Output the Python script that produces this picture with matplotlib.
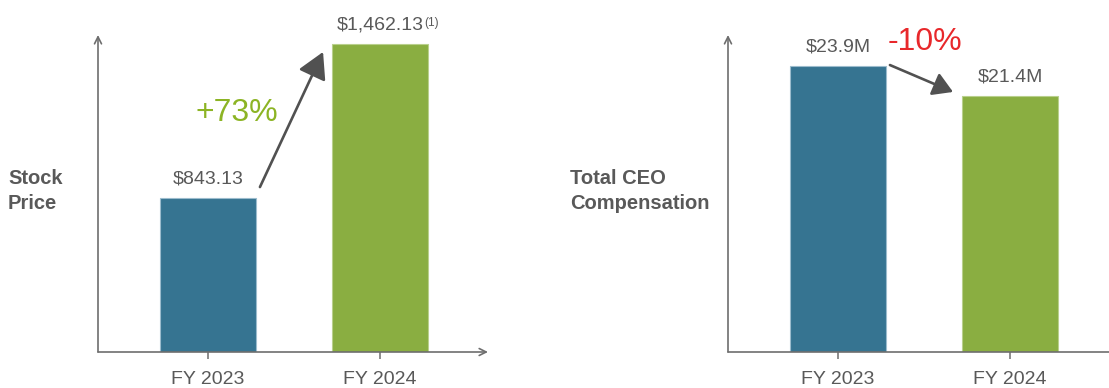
import matplotlib
matplotlib.use("Agg")
import matplotlib.pyplot as plt

plt.rcParams['font.family'] = ['Liberation Sans', 'DejaVu Sans']

# data
years = ['FY 2023', 'FY 2024']
stock_price = [843.13, 1462.13]
stock_labels = ['$843.13', '$1,462.13']
ceo_comp = [23.9, 21.4]          # $M
ceo_labels = ['$23.9M', '$21.4M']
stock_change = '+73%'
comp_change = '-10%'

blue = '#367491'
green = '#8aae41'
axis_gray = '#6e6e6e'
text_gray = '#595959'
arrow_gray = '#515151'

fig = plt.figure(figsize=(11.09, 3.88), dpi=100)
W, H = 1109, 388


def panel(left_px, ylim, x_arrow=True):
    ax = fig.add_axes([left_px / W, 36 / H, 390 / W, 317 / H])
    ax.set_xlim(-0.6395, 1.628)
    ax.set_ylim(*ylim)
    for s in ax.spines.values():
        s.set_visible(False)
    ax.set_yticks([])
    ax.set_xticks([0, 1])
    ax.set_xticklabels(years, fontsize=14, color=text_gray)
    ax.tick_params(axis='x', direction='inout', length=9.5, width=1.1,
                   color=axis_gray, pad=9)
    # axis lines with open arrow heads
    head = '->,head_length=0.5,head_width=0.25'
    ax.annotate('', xy=(0, 1), xytext=(0, 0), xycoords='axes fraction',
                arrowprops=dict(arrowstyle=head, color=axis_gray, lw=1.2,
                                shrinkA=0, shrinkB=0),
                annotation_clip=False)
    ax.annotate('', xy=(1, 0), xytext=(0, 0), xycoords='axes fraction',
                arrowprops=dict(arrowstyle=head if x_arrow else '-',
                                color=axis_gray, lw=1.2, shrinkA=0, shrinkB=0),
                annotation_clip=False)
    return ax


def bars(ax, values, labels):
    ax.bar([0, 1], values, width=0.558, color=[blue, green],
           edgecolor=['#9cbccd', '#b9d08c'], linewidth=0.8, zorder=2)
    txts = []
    for i, (v, lab) in enumerate(zip(values, labels)):
        t = ax.annotate(lab, xy=(i, v), xytext=(0, 10.5), textcoords='offset points',
                        ha='center', va='baseline', fontsize=14, color=text_gray)
        txts.append(t)
    return txts


def change_arrow(ax, values, dy0, dy1, head):
    ax.annotate('', xy=(0.669, values[1] + dy1), xytext=(0.302, values[0] + dy0),
                arrowprops=dict(arrowstyle='-|>,head_length=%.2f,head_width=%.2f' % head,
                                color=arrow_gray, lw=1.9, shrinkA=0, shrinkB=0,
                                mutation_scale=20))


# stock price panel (truncated value axis)
ax1 = panel(98, (224.13, 1498.3))
t1 = bars(ax1, stock_price, stock_labels)
ax1.annotate('(1)', xy=(1.01, 0.97), xycoords=t1[1], ha='left', va='top',
             fontsize=8.5, color=text_gray)
change_arrow(ax1, stock_price, 44, -32, (0.8, 0.45))
ax1.text(0.169, 1185, stock_change, ha='center', va='center',
         fontsize=23, color='#8cb424')
fig.text(8 / W, 1 - 191 / H, 'Stock\nPrice', ha='left', va='center',
         fontsize=14.5, fontweight='bold', color=text_gray, linespacing=1.38)

# CEO compensation panel
ax2 = panel(728, (0, 26.49), x_arrow=False)
bars(ax2, ceo_comp, ceo_labels)
change_arrow(ax2, ceo_comp, 0.08, 0.33, (0.6, 0.36))
ax2.text(0.506, 25.9, comp_change, ha='center', va='center',
         fontsize=23, color='#e8282b')
fig.text(570 / W, 1 - 191 / H, 'Total CEO\nCompensation', ha='left', va='center',
         fontsize=14.5, fontweight='bold', color=text_gray, linespacing=1.38)

fig.savefig('out.png', dpi=100)
